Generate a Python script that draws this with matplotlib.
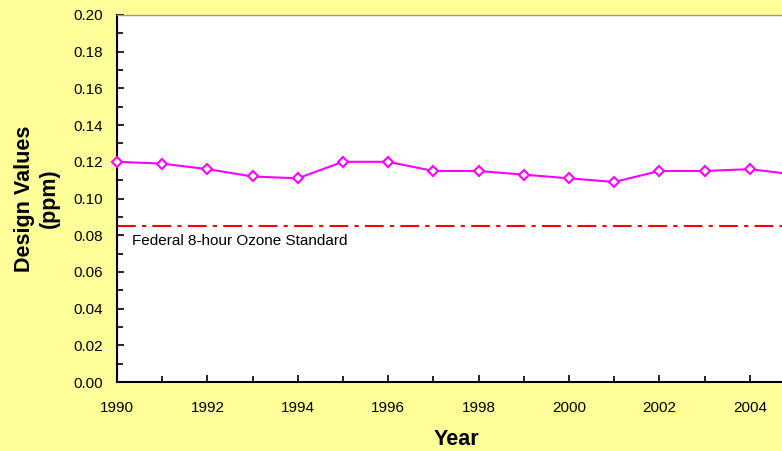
import matplotlib.pyplot as plt
from matplotlib.ticker import MultipleLocator

plt.rcParams['font.family'] = ['Liberation Sans', 'DejaVu Sans']

years = [1990, 1991, 1992, 1993, 1994, 1995, 1996, 1997, 1998, 1999,
         2000, 2001, 2002, 2003, 2004, 2005]
design_values = [0.120, 0.119, 0.116, 0.112, 0.111, 0.120, 0.120, 0.115,
                 0.115, 0.113, 0.111, 0.109, 0.115, 0.115, 0.116, 0.113]
standard = 0.085
standard_label = "Federal 8-hour Ozone Standard"
bg = "#FFFF99"

fig = plt.figure(figsize=(7.82, 4.51), dpi=100, facecolor=bg)
# axes run past the right edge of the figure, so the last year is cut off
ax = fig.add_axes([117 / 782, 1 - 382 / 451, 678 / 782, 367 / 451])
ax.set_facecolor("white")

ax.plot(years, design_values, color="#FF00FF", linewidth=1.5, marker="D",
        markersize=5, markerfacecolor="white", markeredgecolor="#FF00FF",
        markeredgewidth=1.5, clip_on=False, zorder=3)
ax.axhline(standard, color="#FF0000", linewidth=1.5, dashes=(9, 3, 2, 3))
ax.text(1990.33, standard - 0.0045, standard_label, fontsize=11, va="top",
        ha="left", color="black")

ax.set_xlim(1990, 2005)
ax.set_ylim(0, 0.20)
ax.xaxis.set_major_locator(MultipleLocator(2))
ax.xaxis.set_minor_locator(MultipleLocator(1))
ax.yaxis.set_major_locator(MultipleLocator(0.02))
ax.yaxis.set_minor_locator(MultipleLocator(0.01))
ax.yaxis.set_major_formatter(plt.FuncFormatter(lambda v, p: f"{v:.2f}"))
ax.tick_params(which="both", direction="in", labelsize=11, width=1.2,
               top=False, right=False)
ax.tick_params(axis="x", pad=14)
ax.tick_params(axis="y", pad=10)
ax.tick_params(which="major", length=5)
ax.tick_params(which="minor", length=4)

for side in ["left", "bottom"]:
    ax.spines[side].set_linewidth(1.5)
ax.spines["top"].set_color("#999999")
ax.spines["top"].set_linewidth(1.0)
ax.spines["right"].set_visible(False)

ax.set_xlabel("Year", fontsize=15.5, fontweight="bold", labelpad=10)
ax.set_ylabel("Design Values\n(ppm)", fontsize=15.5, fontweight="bold",
              labelpad=10, linespacing=1.25)

fig.savefig("out.png", dpi=100, facecolor=bg)
